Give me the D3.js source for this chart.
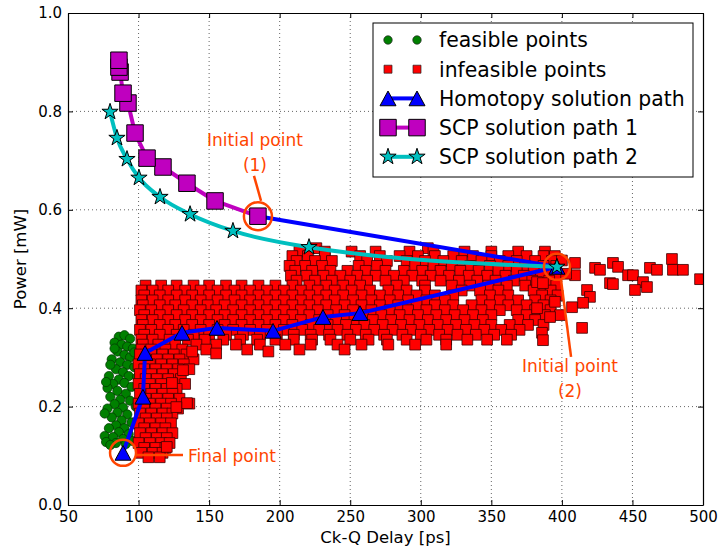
<!DOCTYPE html>
<html>
<head>
<meta charset="utf-8">
<script src="https://cdn.jsdelivr.net/npm/d3@7"></script>
<style>
  html, body { margin: 0; padding: 0; background: #fff; }
  svg { display: block; font-family: "DejaVu Sans", sans-serif; }
</style>
</head>
<body>
<svg id="chart" width="718" height="552"></svg>
<script>
// ---- axis ticks ----
const xTicks = [50, 100, 150, 200, 250, 300, 350, 400, 450, 500];
const yTicks = [0.0, 0.2, 0.4, 0.6, 0.8, 1.0];

// ---- feasible designs [delay ps, power mW] ----
const feasiblePts = [
  [86,0.342],[90,0.345],[94,0.338],[83,0.330],[88,0.326],[92,0.322],[96,0.318],
  [85,0.312],[90,0.305],[94,0.300],[81,0.296],[87,0.290],[92,0.285],[97,0.280],
  [84,0.276],[89,0.270],[79,0.262],[93,0.262],[86,0.255],[82,0.246],[90,0.248],
  [95,0.240],[78,0.238],[85,0.232],[91,0.226],[80,0.220],[87,0.214],[94,0.212],
  [83,0.205],[89,0.198],[78,0.196],[85,0.188],[92,0.184],[81,0.178],[88,0.172],
  [95,0.168],[84,0.162],[79,0.156],[90,0.156],[86,0.148],[93,0.144],[76,0.140],
  [82,0.138],[89,0.134],[77,0.128],[84,0.126],[91,0.124],[80,0.122],[96,0.130],
  [98,0.200],[99,0.260],[97,0.310],[76,0.186],[77,0.250],[80,0.285],[83,0.318]
];

// ---- infeasible designs, grouped by power level: [power, [delays...]] ----
const infeasibleRows = [
  [0.522, [226,305]],
  [0.515, [214,232,251,268,292,309,331,350,369,388]],
  [0.506, [209,220,232,257,271,285,298,310,323,337,350,362,375,387,395]],
  [0.496, [212,225,237,262,276,290,303,316,329,343,356,368,381,393]],
  [0.486, [207,218,230,256,269,296,309,322,335,349,362,374,387,396]],
  [0.476, [211,223,236,248,261,275,288,301,314,328,341,355,368,380,392]],
  [0.466, [208,219,231,243,255,268,281,294,307,320,334,347,360,373,385,396]],
  [0.456, [212,225,237,250,262,275,288,301,314,327,340,353,366,379,391]],
  [0.446, [105,116,127,139,150,162,173,185,197,209,221,233,245,257,283,303,322,335,348,361,374,386,396]],
  [0.436, [102,110,121,133,144,156,168,179,191,203,215,227,239,251,264,277,290,303,329,342,355,380,392]],
  [0.426, [104,115,127,138,150,162,173,185,197,209,221,233,245,258,271,284,297,310,323,349,362,386,397]],
  [0.416, [102,110,121,133,144,156,168,179,191,203,215,227,239,252,265,278,291,304,317,343,356,369,381,392]],
  [0.406, [103,115,126,138,149,161,173,185,197,209,221,233,246,258,271,284,297,310,323,336,349,362,375,387]],
  [0.396, [101,109,121,132,144,155,167,179,191,203,215,227,240,252,265,278,291,304,317,330,343,356,368,381,392]],
  [0.386, [104,115,127,138,150,161,173,185,197,209,221,234,246,259,272,285,298,311,324,337,350,375,388]],
  [0.376, [102,110,121,133,144,156,167,179,191,203,215,228,240,253,266,279,292,305,318,331,344,369,381]],
  [0.366, [103,115,126,138,150,161,173,185,197,209,222,234,247,260,273,286,299,312,325,338,350,363,376,387]],
  [0.356, [101,109,121,132,144,156,167,179,191,203,216,228,241,254,267,280,293,306,319,332,345,357,370]],
  [0.346, [104,115,127,139,150,162,174,186,198,210,222,235,248,261,274,287,300,313,326,339,352,364]],
  [0.336, [102,110,122,135,147,160,172,184,197,210,223,236,250,263,276,290,304,318,333,347,361]],
  [0.326, [103,114,126,141,155,169,186,204,222,241,258,277,296,318]],
  [0.316, [102,109,119,131,148,177,214,246]],
  [0.306, [101,109,117,125,134]],
  [0.296, [105,113,121,129,139]],
  [0.286, [100,108,116,124,132]],
  [0.276, [104,112,120,128,136]],
  [0.266, [101,109,117,125]],
  [0.256, [105,113,121,130]],
  [0.246, [100,108,116,124,133]],
  [0.236, [104,112,120,127]],
  [0.226, [101,109,117,124]],
  [0.216, [105,113,121,129]],
  [0.206, [100,108,116,123,136]],
  [0.196, [104,112,120,128]],
  [0.186, [101,109,117,124]],
  [0.176, [105,113,120]],
  [0.166, [100,108,116,123]],
  [0.156, [104,112,119]],
  [0.146, [101,109,117,124]],
  [0.136, [105,113,120]],
  [0.126, [100,108,116,122]],
  [0.116, [104,112,119]],
  [0.106, [102,110,117]],
  [0.097, [107,115]]
];
// scattered infeasible designs away from the main clusters
const infeasibleTail = [
  [409.3,0.492],[423.5,0.482],[427.0,0.478],[436.2,0.492],[439.8,0.484],[446.9,0.467],
  [450.4,0.467],[462.4,0.482],[467.4,0.478],[478.0,0.500],[478.7,0.478],[485.8,0.478],
  [497.9,0.459],[457.5,0.453],[460.3,0.443],[451.8,0.437],[434.1,0.451],[436.2,0.449],
  [417.8,0.437],[419.9,0.423],[415.0,0.411],[407.2,0.402],[414.3,0.360],[398.7,0.386],
  [385.9,0.350],[386.6,0.335],[382.4,0.400],[391.6,0.382],[395.1,0.413],[409.3,0.467],
  [382.4,0.453],[386.6,0.451],[400.0,0.497],[403.0,0.470],
  [131.5,0.274],[134.3,0.207],[126.8,0.199],[123.7,0.248],[120.0,0.118],[138.0,0.312],
  [155.0,0.308],[192.0,0.312]
];

// ---- optimisation paths ----
const homotopyX = [184.6, 396.5, 256.9, 230.7, 195.3, 155.6, 130.8, 104.6, 103.1, 89.0];
const homotopyY = [0.587, 0.484, 0.390, 0.382, 0.354, 0.360, 0.350, 0.309, 0.220, 0.106];
const scp1X = [184.6, 154.2, 134.3, 117.3, 106.0, 97.5, 92.5, 89.0, 86.9, 86.1, 86.1];
const scp1Y = [0.587, 0.618, 0.654, 0.687, 0.705, 0.756, 0.817, 0.837, 0.880, 0.890, 0.904];
const scp2X = [79.8, 84.7, 91.8, 100.3, 115.2, 136.5, 166.9, 220.8, 396.5];
const scp2Y = [0.799, 0.746, 0.703, 0.665, 0.626, 0.591, 0.557, 0.524, 0.484];

const legendLabels = ["feasible points", "infeasible points", "Homotopy solution path",
                      "SCP solution path 1", "SCP solution path 2"];

// ---- layout ----
const svg = d3.select("#chart");
const pL = 68, pR = 703, pT = 13, pB = 505;
const x = d3.scaleLinear().domain([50, 500]).range([pL, pR]);
const y = d3.scaleLinear().domain([0, 1]).range([pB, pT]);

const C = { green: "#008000", red: "#ff0000", blue: "#0000ff", mag: "#bf00bf", cyan: "#00bfbf", note: "#ff4500" };

// custom upward triangle
const triUp = { draw(ctx, size) { const s = Math.sqrt(size);
  ctx.moveTo(0, -0.46 * s); ctx.lineTo(0.5 * s, 0.46 * s); ctx.lineTo(-0.5 * s, 0.46 * s); ctx.closePath(); } };

svg.append("defs").append("clipPath").attr("id", "plotclip")
  .append("rect").attr("x", pL).attr("y", pT).attr("width", pR - pL).attr("height", pB - pT);

// grid
const grid = svg.append("g").attr("stroke", "#555").attr("stroke-width", 0.9).attr("stroke-dasharray", "1,3");
grid.selectAll("line.gx").data(xTicks.slice(1, -1)).join("line").attr("class", "gx")
  .attr("x1", d => x(d)).attr("x2", d => x(d)).attr("y1", pT).attr("y2", pB);
grid.selectAll("line.gy").data(yTicks.slice(1, -1)).join("line").attr("class", "gy")
  .attr("y1", d => y(d)).attr("y2", d => y(d)).attr("x1", pL).attr("x2", pR);

const plot = svg.append("g").attr("clip-path", "url(#plotclip)");

// feasible points
plot.append("g").selectAll("path").data(feasiblePts).join("path")
  .attr("transform", d => `translate(${x(d[0])},${y(d[1])})`)
  .attr("d", d3.symbol(d3.symbolCircle, 68))
  .attr("fill", C.green).attr("stroke", "#003300").attr("stroke-width", 0.7);

// infeasible points
const infeasiblePts = infeasibleRows.flatMap(([p, xs]) => xs.map(v => [v, p])).concat(infeasibleTail);
plot.append("g").selectAll("path").data(infeasiblePts).join("path")
  .attr("transform", d => `translate(${x(d[0])},${y(d[1])})`)
  .attr("d", d3.symbol(d3.symbolSquare, 115))
  .attr("fill", C.red).attr("stroke", "#3a0000").attr("stroke-width", 0.8);

function drawPath(xs, ys, color, symType, symSize, curve) {
  const pts = xs.map((v, i) => [v, ys[i]]);
  const g = plot.append("g");
  g.append("path").datum(pts)
    .attr("d", d3.line().x(d => x(d[0])).y(d => y(d[1])).curve(curve || d3.curveLinear))
    .attr("fill", "none").attr("stroke", color).attr("stroke-width", 4).attr("stroke-linejoin", "round");
  g.selectAll("path.m").data(pts).join("path").attr("class", "m")
    .attr("transform", d => `translate(${x(d[0])},${y(d[1])})`)
    .attr("d", d3.symbol(symType, symSize))
    .attr("fill", color).attr("stroke", "#000").attr("stroke-width", 1);
}
drawPath(homotopyX, homotopyY, C.blue, triUp, 256);
drawPath(scp1X, scp1Y, C.mag, d3.symbolSquare, 272);
drawPath(scp2X, scp2Y, C.cyan, d3.symbolStar, 82, d3.curveMonotoneX);

// axes with inward ticks on all four sides
const fmtY = d3.format(".1f");
const axB = svg.append("g").attr("transform", `translate(0,${pB})`)
  .call(d3.axisBottom(x).tickValues(xTicks).tickSize(-5).tickSizeOuter(0).tickPadding(6).tickFormat(d3.format("d")));
const axL = svg.append("g").attr("transform", `translate(${pL},0)`)
  .call(d3.axisLeft(y).tickValues(yTicks).tickSize(-5).tickSizeOuter(0).tickPadding(6).tickFormat(fmtY));
const axT = svg.append("g").attr("transform", `translate(0,${pT})`)
  .call(d3.axisTop(x).tickValues(xTicks).tickSize(-5).tickSizeOuter(0).tickFormat(""));
const axR = svg.append("g").attr("transform", `translate(${pR},0)`)
  .call(d3.axisRight(y).tickValues(yTicks).tickSize(-5).tickSizeOuter(0).tickFormat(""));
[axB, axL, axT, axR].forEach(a => {
  a.select(".domain").attr("stroke", "#000").attr("stroke-width", 1.2);
  a.selectAll(".tick line").attr("stroke", "#000").attr("stroke-width", 1);
  a.selectAll("text").attr("font-family", "DejaVu Sans").attr("font-size", 15).attr("fill", "#000");
});

// axis titles
svg.append("text").attr("x", (pL + pR) / 2).attr("y", 543).attr("text-anchor", "middle")
  .attr("font-size", 16.5).text("Ck-Q Delay [ps]");
svg.append("text").attr("transform", `translate(26,${(pT + pB) / 2}) rotate(-90)`)
  .attr("text-anchor", "middle").attr("font-size", 16.5).text("Power [mW]");

// annotations
const ann = svg.append("g").attr("fill", "none").attr("stroke", C.note).attr("stroke-width", 2.5);
ann.append("circle").attr("cx", x(184.6)).attr("cy", y(0.587)).attr("r", 14);
ann.append("circle").attr("cx", x(396.5)).attr("cy", y(0.484)).attr("r", 13);
ann.append("circle").attr("cx", x(89.0)).attr("cy", y(0.106)).attr("r", 13);
ann.append("line").attr("x1", x(181.8)).attr("y1", y(0.669)).attr("x2", x(186.8)).attr("y2", y(0.618));
ann.append("line").attr("x1", x(399.4)).attr("y1", y(0.457)).attr("x2", x(406.5)).attr("y2", y(0.301));
ann.append("line").attr("x1", x(98.9)).attr("y1", y(0.1016)).attr("x2", x(131.5)).attr("y2", y(0.1016));
const annText = svg.append("g").attr("fill", C.note).attr("font-size", 17);
annText.append("text").attr("x", x(182.5)).attr("y", y(0.730)).attr("text-anchor", "middle").text("Initial point");
annText.append("text").attr("x", x(182.5)).attr("y", y(0.679)).attr("text-anchor", "middle").text("(1)");
annText.append("text").attr("x", x(405.7)).attr("y", y(0.270)).attr("text-anchor", "middle").text("Initial point");
annText.append("text").attr("x", x(405.7)).attr("y", y(0.2195)).attr("text-anchor", "middle").text("(2)");
annText.append("text").attr("x", x(135)).attr("y", y(0.0874)).attr("text-anchor", "start").text("Final point");

// legend
const lg = svg.append("g");
lg.append("rect").attr("x", 373).attr("y", 23).attr("width", 320).attr("height", 154)
  .attr("fill", "#fff").attr("stroke", "#000").attr("stroke-width", 1);
const rowY = i => 40 + i * 29.2;
const mx1 = 388, mx2 = 417;
// scatter entries
[[d3.symbolCircle, 56, C.green], [d3.symbolSquare, 64, C.red]].forEach(([t, s, c], i) => {
  [mx1, mx2].forEach(mx => lg.append("path").attr("transform", `translate(${mx},${rowY(i)})`)
    .attr("d", d3.symbol(t, s)).attr("fill", c).attr("stroke", "#222").attr("stroke-width", 0.7));
});
// line entries
[[triUp, 256, C.blue], [d3.symbolSquare, 272, C.mag], [d3.symbolStar, 82, C.cyan]].forEach(([t, s, c], k) => {
  const i = k + 2;
  lg.append("line").attr("x1", mx1).attr("x2", mx2).attr("y1", rowY(i)).attr("y2", rowY(i))
    .attr("stroke", c).attr("stroke-width", 4);
  [mx1, mx2].forEach(mx => lg.append("path").attr("transform", `translate(${mx},${rowY(i)})`)
    .attr("d", d3.symbol(t, s)).attr("fill", c).attr("stroke", "#000").attr("stroke-width", 1));
});
lg.selectAll("text").data(legendLabels).join("text")
  .attr("x", 439).attr("y", (d, i) => rowY(i)).attr("dy", "0.36em")
  .attr("font-size", 20.4).attr("fill", "#000").text(d => d);
</script>
</body>
</html>
